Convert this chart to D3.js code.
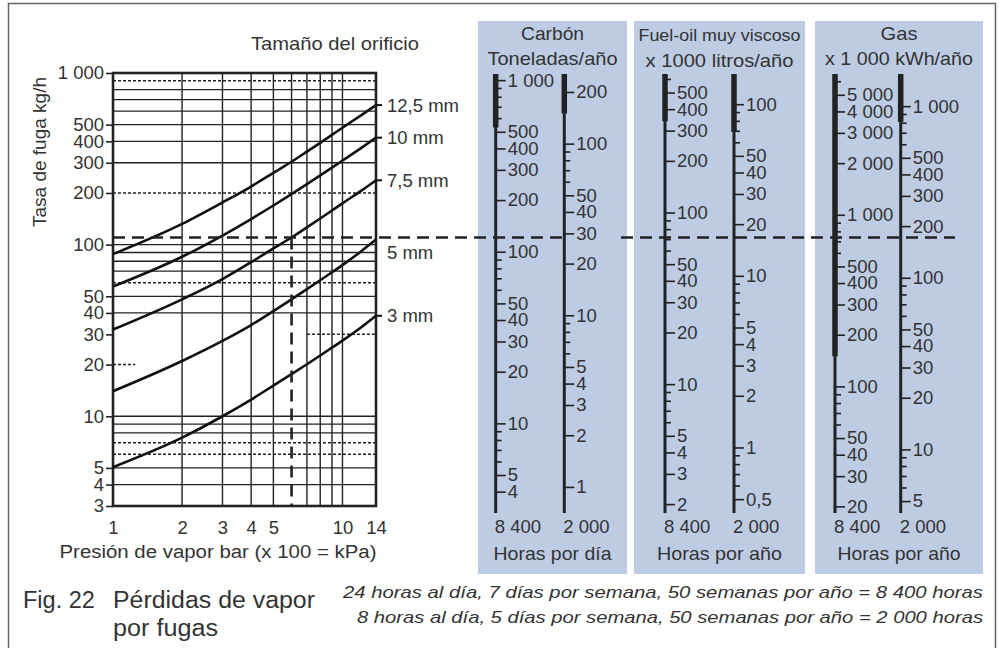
<!DOCTYPE html>
<html>
<head>
<meta charset="utf-8">
<script src="https://cdn.jsdelivr.net/npm/d3@7"></script>
<style>
  body { margin: 0; background: #fff; }
  svg text { font-family: "Liberation Sans", Arial, sans-serif; fill: #333; }
</style>
</head>
<body>
<svg id="chart" width="999" height="648"></svg>
<script>
// leak rate (kg/h) against steam pressure (bar) for each orifice size
const pressures = [1, 2, 3, 4, 5, 6, 7, 8, 9, 10, 12, 14];
const orificeSizes = ["12,5 mm", "10 mm", "7,5 mm", "5 mm", "3 mm"];
const leak125 = [88, 132, 176, 218, 262, 304, 348, 392, 436, 480, 565, 650];
const leak10 = [57, 85, 113, 141, 169, 197, 225, 253, 281, 309, 364, 420];
const leak75 = [32, 48, 63, 79, 95, 110, 126, 142, 158, 174, 205, 237];
const leak5 = [14, 21, 27.5, 34, 41, 48, 55, 62, 69, 76, 91, 107];
const leak3 = [5.05, 7.5, 10, 12.5, 15.1, 17.6, 20.1, 22.6, 25.1, 27.6, 32.8, 38.5];

const xTicks = [1, 2, 3, 4, 5, 10, 14];
const xGrid = [2, 3, 4, 5, 6, 7, 8, 9, 10];
const yTicks = [1000, 500, 400, 300, 200, 100, 50, 40, 30, 20, 10, 5, 4, 3];
const yGrid = [800, 700, 600, 500, 400, 300, 100, 90, 80, 70, 50, 40, 10, 9, 8, 5, 4];
const yGridDotted = [900, 200, 60, 7, 6];
const yGridPartial = [[30, 7, 14], [20, 1, 1.25]];

// worked example drawn as a dashed line
const examplePressure = 6;
const exampleRate = 110;

// conversion scales (value per kg/h of steam)
const coal8400Ticks = [1000, 500, 400, 300, 200, 100, 50, 40, 30, 20, 10, 5, 4];
const coal8400Minor = [900, 800, 700, 600, 90, 80, 70, 60, 9, 8, 7, 6];
const coal2000Ticks = [200, 100, 50, 40, 30, 20, 10, 5, 4, 3, 2, 1];
const coal2000Minor = [90, 80, 70, 60, 9, 8, 7, 6];
const fuel8400Ticks = [500, 400, 300, 200, 100, 50, 40, 30, 20, 10, 5, 4, 3, 2];
const fuel8400Minor = [600, 90, 80, 70, 60, 9, 8, 7, 6];
const fuel2000Ticks = [100, 50, 40, 30, 20, 10, 5, 4, 3, 2, 1, 0.5];
const fuel2000Minor = [90, 80, 70, 60, 9, 8, 7, 6, 0.9, 0.8, 0.7, 0.6];
const gas8400Ticks = [5000, 4000, 3000, 2000, 1000, 500, 400, 300, 200, 100, 50, 40, 30, 20];
const gas8400Minor = [6000, 900, 800, 700, 600, 90, 80, 70, 60];
const gas2000Ticks = [1000, 500, 400, 300, 200, 100, 50, 40, 30, 20, 10, 5];
const gas2000Minor = [900, 800, 700, 600, 90, 80, 70, 60, 9, 8, 7, 6];
const factors = [1.1, 0.258, 0.65, 0.152, 6.7, 1.56];
const boldTo = [530, 150, 340, 69, 150, 810];

const panelTitles = [["Carbón", "Toneladas/año"], ["Fuel-oil muy viscoso", "x 1000 litros/año"], ["Gas", "x 1 000 kWh/año"]];
const panelFooters = ["Horas por día", "Horas por año", "Horas por año"];
const hourLabels = ["8 400", "2 000"];

const svg = d3.select("#chart");
const locale = d3.formatLocale({ decimal: ",", thousands: " ", grouping: [3], currency: ["", ""] });
const fmt = locale.format(",");

// outer frame
svg.append("rect")
  .attr("x", 8.5).attr("y", 3.5).attr("width", 987).attr("height", 660)
  .attr("fill", "none").attr("stroke", "#666").attr("stroke-width", 1.5);

// scales for the left chart
const plot = { left: 113, right: 376, top: 73, bottom: 506 };
const x = d3.scaleLog().domain([1, 14]).range([plot.left, plot.right]);
const y = d3.scaleLog().domain([3, 1000]).range([plot.bottom, plot.top]);

// panels background
const panels = [
  { x0: 478, x1: 627, axes: [495.7, 564.3], w: [[63, 130], [118]] },
  { x0: 634, x1: 805, axes: [665, 734], w: [[162, 148], [125]] },
  { x0: 815, x1: 983, axes: [835, 900.7], w: [[37, 148], [123]] }
];
svg.append("g").selectAll("rect")
  .data(panels)
  .join("rect")
    .attr("x", d => d.x0).attr("y", 21)
    .attr("width", d => d.x1 - d.x0).attr("height", 553)
    .attr("fill", "#bdcbe3");

// grid
const grid = svg.append("g").attr("stroke", "#222").attr("fill", "none");
grid.selectAll(".hg")
  .data(yGrid)
  .join("line")
    .attr("x1", plot.left).attr("x2", plot.right)
    .attr("y1", d => y(d)).attr("y2", d => y(d))
    .attr("stroke-width", 1.3);
grid.selectAll(".hd")
  .data(yGridDotted)
  .join("line")
    .attr("x1", plot.left).attr("x2", plot.right)
    .attr("y1", d => y(d)).attr("y2", d => y(d))
    .attr("stroke-width", 1.5)
    .attr("stroke-dasharray", "3,2");
grid.selectAll(".hp")
  .data(yGridPartial)
  .join("line")
    .attr("x1", d => x(d[1])).attr("x2", d => x(d[2]))
    .attr("y1", d => y(d[0])).attr("y2", d => y(d[0]))
    .attr("stroke-width", 1.5)
    .attr("stroke-dasharray", "3,2");
grid.selectAll(".vg")
  .data(xGrid)
  .join("line")
    .attr("x1", d => x(d)).attr("x2", d => x(d))
    .attr("y1", plot.top).attr("y2", d => d === examplePressure ? y(exampleRate) : plot.bottom)
    .attr("stroke-width", 1.4);

svg.append("rect")
  .attr("x", plot.left).attr("y", plot.top)
  .attr("width", plot.right - plot.left).attr("height", plot.bottom - plot.top)
  .attr("fill", "none").attr("stroke", "#222").attr("stroke-width", 2.6);

// axes of the left chart
const yAxis = svg.append("g")
  .attr("transform", `translate(${plot.left},0)`)
  .call(d3.axisLeft(y).tickValues(yTicks).tickSize(7).tickPadding(2).tickFormat(fmt));
const xAxis = svg.append("g")
  .attr("transform", `translate(0,${plot.bottom})`)
  .call(d3.axisBottom(x).tickValues(xTicks).tickSize(0).tickPadding(15).tickFormat(d3.format("d")));
[yAxis, xAxis].forEach(a => {
  a.select(".domain").remove();
  a.selectAll("line").attr("stroke", "#222").attr("stroke-width", 1.6);
  a.selectAll("text").attr("font-size", 18.5).attr("fill", "#333");
});

// leak curves
const series = [leak125, leak10, leak75, leak5, leak3];
const line = d3.line()
  .x((d, i) => x(pressures[i]))
  .y(d => y(d))
  .curve(d3.curveMonotoneX);
svg.append("g").selectAll("path")
  .data(series)
  .join("path")
    .attr("d", line)
    .attr("fill", "none").attr("stroke", "#111").attr("stroke-width", 2.6);

const last = pressures.length - 1;
const labelShift = { "5 mm": 13 };
const curveLabels = svg.append("g").selectAll("g")
  .data(series)
  .join("g")
    .attr("transform", d => `translate(${x(pressures[last])},${y(d[last])})`);
curveLabels.filter((d, i) => !labelShift[orificeSizes[i]])
  .append("line")
    .attr("x1", 0).attr("x2", 6)
    .attr("stroke", "#111").attr("stroke-width", 2);
curveLabels.append("text")
  .attr("x", 11)
  .attr("y", (d, i) => labelShift[orificeSizes[i]] || 0)
  .attr("dy", "0.35em")
  .attr("font-size", 18.5)
  .text((d, i) => orificeSizes[i]);

// chart titles
svg.append("text")
  .attr("x", 335).attr("y", 50)
  .attr("text-anchor", "middle").attr("font-size", 18.5)
  .attr("textLength", 168).attr("lengthAdjust", "spacingAndGlyphs")
  .text("Tamaño del orificio");
svg.append("text")
  .attr("transform", "translate(46,152) rotate(-90)")
  .attr("text-anchor", "middle").attr("font-size", 18)
  .attr("textLength", 150).attr("lengthAdjust", "spacingAndGlyphs")
  .text("Tasa de fuga kg/h");
svg.append("text")
  .attr("x", 218).attr("y", 558)
  .attr("text-anchor", "middle").attr("font-size", 18)
  .attr("textLength", 317).attr("lengthAdjust", "spacingAndGlyphs")
  .text("Presión de vapor bar (x 100 = kPa)");

// conversion axes in the panels
const axisTicks = [coal8400Ticks, coal2000Ticks, fuel8400Ticks, fuel2000Ticks, gas8400Ticks, gas2000Ticks];
const axisMinor = [coal8400Minor, coal2000Minor, fuel8400Minor, fuel2000Minor, gas8400Minor, gas2000Minor];

axisTicks.forEach((ticks, k) => {
  const f = factors[k];
  const ax = panels[Math.floor(k / 2)].axes[k % 2];
  const s = d3.scaleLog().domain([3 * f, 1000 * f]).range(y.range());
  const g = svg.append("g").attr("transform", `translate(${ax},0)`);

  g.append("g")
    .call(d3.axisRight(s).tickValues(axisMinor[k]).tickSize(6).tickFormat(""))
    .call(a => a.select(".domain").remove())
    .selectAll("line").attr("stroke", "#222").attr("stroke-width", 1.6);
  const major = g.append("g")
    .call(d3.axisRight(s).tickValues(ticks).tickSize(10).tickPadding(2).tickFormat(fmt));
  major.select(".domain").remove();
  major.selectAll("line").attr("stroke", "#222").attr("stroke-width", 1.6);
  major.selectAll("text").attr("font-size", 18.5).attr("fill", "#333");

  g.append("line")
    .attr("y1", plot.top + 1).attr("y2", plot.bottom + 7)
    .attr("stroke", "#222").attr("stroke-width", 3);
  g.append("line")
    .attr("y1", plot.top + 1).attr("y2", s(boldTo[k]))
    .attr("stroke", "#222").attr("stroke-width", 5.5);

  g.append("text")
    .attr("x", -1).attr("y", 533)
    .attr("font-size", 18.5)
    .text(hourLabels[k % 2]);
});

// panel titles and footers
const ptext = svg.append("g").selectAll("g")
  .data(panels)
  .join("g")
    .attr("transform", d => `translate(${(d.x0 + d.x1) / 2},0)`)
    .attr("text-anchor", "middle");
ptext.append("text")
  .attr("y", (d, i) => i === 1 ? 41 : 40)
  .attr("font-size", (d, i) => i === 1 ? 17 : 18.5)
  .attr("textLength", d => d.w[0][0]).attr("lengthAdjust", "spacingAndGlyphs")
  .text((d, i) => panelTitles[i][0]);
ptext.append("text")
  .attr("y", (d, i) => i === 1 ? 67 : 65)
  .attr("font-size", 18.5)
  .attr("textLength", d => d.w[0][1]).attr("lengthAdjust", "spacingAndGlyphs")
  .text((d, i) => panelTitles[i][1]);
ptext.append("text")
  .attr("y", 560)
  .attr("font-size", 18.5)
  .attr("textLength", d => d.w[1][0]).attr("lengthAdjust", "spacingAndGlyphs")
  .text((d, i) => panelFooters[i]);

// dashed example lines
const dash = svg.append("g")
  .attr("stroke", "#222").attr("stroke-width", 2.6)
  .attr("stroke-dasharray", "12,7").attr("fill", "none");
dash.append("line")
  .attr("x1", plot.left).attr("x2", panels[0].axes[1] + 1)
  .attr("y1", y(exampleRate)).attr("y2", y(exampleRate));
dash.append("line")
  .attr("x1", 621).attr("x2", 955)
  .attr("y1", y(exampleRate)).attr("y2", y(exampleRate));
dash.append("line")
  .attr("x1", x(examplePressure)).attr("x2", x(examplePressure))
  .attr("y1", y(exampleRate)).attr("y2", plot.bottom);

// caption and notes
svg.append("text").attr("x", 23).attr("y", 608).attr("font-size", 23.5).text("Fig. 22");
svg.append("text").attr("x", 113).attr("y", 608).attr("font-size", 23.5)
  .attr("textLength", 202).attr("lengthAdjust", "spacingAndGlyphs")
  .text("Pérdidas de vapor");
svg.append("text").attr("x", 113).attr("y", 636).attr("font-size", 23.5)
  .attr("textLength", 105).attr("lengthAdjust", "spacingAndGlyphs")
  .text("por fugas");
svg.append("text").attr("x", 343).attr("y", 598).attr("font-size", 16.5)
  .attr("font-style", "italic")
  .attr("textLength", 640).attr("lengthAdjust", "spacingAndGlyphs")
  .text("24 horas al día, 7 días por semana, 50 semanas por año = 8 400 horas");
svg.append("text").attr("x", 357).attr("y", 623).attr("font-size", 16.5)
  .attr("font-style", "italic")
  .attr("textLength", 626).attr("lengthAdjust", "spacingAndGlyphs")
  .text("8 horas al día, 5 días por semana, 50 semanas por año = 2 000 horas");
</script>
</body>
</html>
